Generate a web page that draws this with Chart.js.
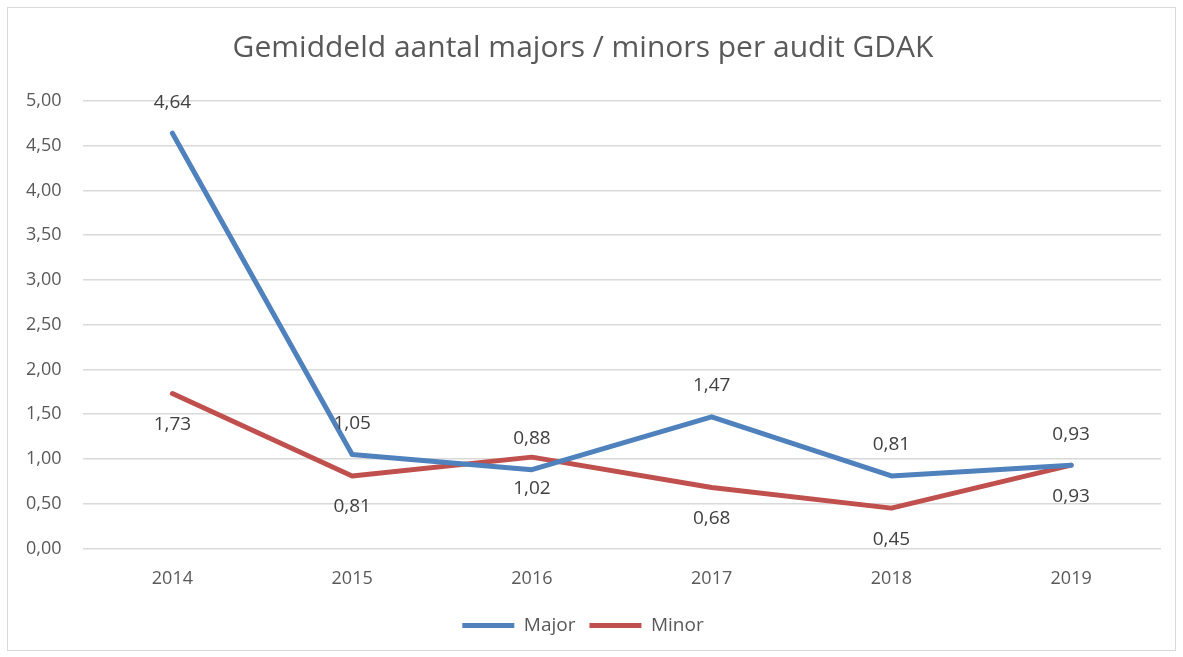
<!DOCTYPE html>
<html>
<head>
<meta charset="utf-8">
<script src="https://cdn.jsdelivr.net/npm/chart.js@4"></script>
<style>
  html, body { margin: 0; padding: 0; background: #fff; }
  #frame {
    position: absolute; left: 7px; top: 7px; width: 1169px; height: 644px;
    border: 1px solid #d9d9d9; box-sizing: border-box;
  }
  #wrap { position: absolute; left: 0; top: 0; width: 1183px; height: 657px; }
</style>
</head>
<body>
<div id="frame"></div>
<div id="wrap"><canvas id="chart"></canvas></div>
<script>
// --- Data ---
const years = ['2014', '2015', '2016', '2017', '2018', '2019'];
const majorValues = [4.64, 1.05, 0.88, 1.47, 0.81, 0.93];
const minorValues = [1.73, 0.81, 1.02, 0.68, 0.45, 0.93];
const yTicks = [0, 0.5, 1, 1.5, 2, 2.5, 3, 3.5, 4, 4.5, 5];

const FONT = "'Open Sans', 'Liberation Sans', sans-serif";

function fmt(v) {
    return v.toFixed(2).replace('.', ',');
}

// Draw value labels: Major above the point, Minor below
const valueLabels = {
    id: 'valueLabels',
    afterDatasetsDraw(chart) {
        const ctx = chart.ctx;
        ctx.save();
        ctx.font = '19px ' + FONT;
        ctx.fillStyle = '#404040';
        ctx.textAlign = 'center';
        ctx.textBaseline = 'middle';
        chart.data.datasets.forEach((ds, i) => {
            const meta = chart.getDatasetMeta(i);
            const offset = i === 0 ? -31 : 31;
            meta.data.forEach((pt, j) => {
                ctx.fillText(fmt(ds.data[j]), pt.x, pt.y + offset);
            });
        });
        ctx.restore();
    }
};

new Chart(document.getElementById('chart'), {
    type: 'line',
    data: {
        labels: years,
        datasets: [{
            label: 'Major',
            data: majorValues,
            borderColor: '#4f81bd',
            backgroundColor: '#4f81bd',
            borderWidth: 5,
            borderCapStyle: 'round',
            borderJoinStyle: 'round',
            pointRadius: 0,
            tension: 0
        }, {
            label: 'Minor',
            data: minorValues,
            borderColor: '#c0504d',
            backgroundColor: '#c0504d',
            borderWidth: 5,
            borderCapStyle: 'round',
            borderJoinStyle: 'round',
            pointRadius: 0,
            tension: 0
        }]
    },
    options: {
        responsive: true,
        maintainAspectRatio: false,
        animation: false,
        layout: { padding: { left: 5, right: 22, top: 20, bottom: 12 } },
        plugins: {
            title: {
                display: true,
                text: 'Gemiddeld aantal majors / minors per audit GDAK',
                color: '#595959',
                font: { size: 30, family: FONT, weight: 'normal' },
                padding: { top: 10, bottom: 35 }
            },
            legend: {
                position: 'bottom',
                labels: {
                    usePointStyle: true,
                    pointStyle: 'line',
                    pointStyleWidth: 52,
                    color: '#595959',
                    font: { size: 19, family: FONT },
                    padding: 14
                }
            },
            tooltip: { enabled: false }
        },
        scales: {
            x: {
                offset: true,
                grid: { display: false },
                border: { display: false },
                ticks: {
                    color: '#595959',
                    font: { size: 18, family: FONT },
                    padding: 12
                }
            },
            y: {
                min: 0,
                max: 5,
                afterBuildTicks(axis) {
                    axis.ticks = yTicks.map(v => ({ value: v }));
                },
                grid: { color: '#d9d9d9', lineWidth: 1.5, drawTicks: false },
                border: { display: false },
                ticks: {
                    color: '#595959',
                    font: { size: 18, family: FONT },
                    padding: 21,
                    callback: v => fmt(v)
                }
            }
        }
    },
    plugins: [valueLabels]
});
</script>
</body>
</html>
